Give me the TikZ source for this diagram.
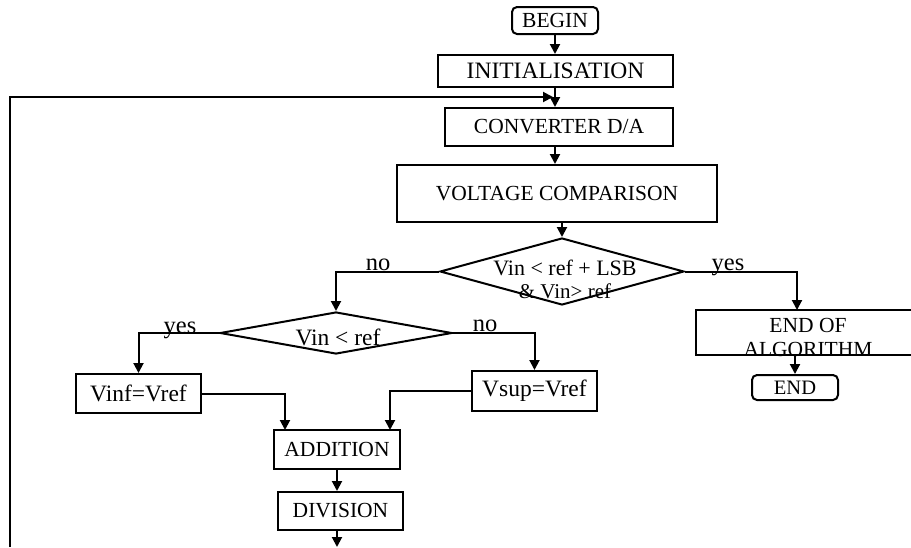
\documentclass[tikz,border=0pt]{standalone}
\usepackage{fontspec}
\setmainfont{Liberation Serif}
\usetikzlibrary{arrows.meta,shapes.geometric}
\begin{document}
\begin{tikzpicture}[x=1pt,y=-1pt,
  line width=2pt,
  >={Triangle[length=10pt,width=10pt]},
  box/.style={draw,rectangle,inner sep=0pt,font=\fontsize{21.5}{24}\selectfont},
  rbox/.style={box,rounded corners=5pt},
  dia/.style={draw,diamond,inner sep=0pt},
  txt/.style={inner sep=0pt,anchor=base,font=\fontsize{21.5}{24}\selectfont},
  lbl/.style={inner sep=0pt,anchor=base,font=\fontsize{24.5}{28}\selectfont}]
\useasboundingbox (0,0) rectangle (911,547);
% nodes
\node[rbox,minimum width=86pt,minimum height=27pt] (begin) at (555,20.5) {BEGIN};
\node[box,minimum width=235pt,minimum height=32pt,font=\fontsize{23.5}{26}\selectfont] (init) at (555.5,71) {INITIALISATION};
\node[box,minimum width=228pt,minimum height=38pt] (conv) at (559,127) {CONVERTER D/A};
\node[box,minimum width=320pt,minimum height=57pt] (volt) at (557,193.5) {VOLTAGE COMPARISON};
\node[dia,minimum width=244pt,minimum height=67pt] (d1) at (562,271.5) {};
\node[txt,font=\fontsize{22}{24}\selectfont] (d1a) at (565,275) {Vin < ref + LSB};
\node[txt,font=\fontsize{21}{24}\selectfont] (d1b) at (565,298) {\& Vin> ref};
\node[dia,minimum width=232pt,minimum height=42pt] (d2) at (336,333) {};
\node[txt,font=\fontsize{23.5}{26}\selectfont] (d2a) at (338,345) {Vin < ref};
\node[box,minimum width=226pt,minimum height=45pt] (endalg) at (809,332.5) {};
\node[txt] (endalga) at (808,332) {END OF};
\node[txt] (endalgb) at (808,356) {ALGORITHM};
\node[rbox,minimum width=86pt,minimum height=25pt,font=\fontsize{20.5}{24}\selectfont] (endb) at (795,387.5) {END};
\node[box,minimum width=125pt,minimum height=39pt,font=\fontsize{23.5}{26}\selectfont] (vinf) at (138.5,393.5) {Vinf=Vref};
\node[box,minimum width=125pt,minimum height=40pt,font=\fontsize{23.5}{26}\selectfont] (vsup) at (534.5,391) {Vsup=Vref};
\node[box,minimum width=126pt,minimum height=39pt] (add) at (337,449.5) {ADDITION};
\node[box,minimum width=125pt,minimum height=38pt] (div) at (340.5,511) {DIVISION};
% labels
\node[lbl] (no1) at (378,270) {no};
\node[lbl] (yes1) at (728,270) {yes};
\node[lbl] (yes2) at (180,333) {yes};
\node[lbl] (no2) at (485,331) {no};
% coordinates
\coordinate (endin) at (797,310);
\coordinate (addin1) at (285,430);
\coordinate (addin2) at (390,430);
\coordinate (bottom) at (337,547);
\coordinate (loopa) at (10,547);
\coordinate (loopb) at (10,97);
\coordinate (loopc) at (553,97);
% connectors
\draw[->] (begin.south) -- (init.north -| begin.south);
\draw[->] (init.south -| begin.south) -- (conv.north -| begin.south);
\draw[->] (loopa) -- (loopb) -- (loopc);
\draw[->] (conv.south -| begin.south) -- (volt.north -| begin.south);
\draw[->] (volt.south -| d1.north) -- (d1.north);
\draw[->] (d1.west) -| (d2.north);
\draw[->] (d1.east) -| (endin);
\draw[->] (endalg.south -| endb.north) -- (endb.north);
\draw[->] (d2.west) -| (vinf.north);
\draw[->] (d2.east) -| (vsup.north);
\draw[->] (vinf.east) -| (addin1);
\draw[->] (vsup.west) -| (addin2);
\draw[->] (add.south) -- (add.south |- div.north);
\draw[->] (add.south |- div.south) -- (bottom);
\end{tikzpicture}
\end{document}
